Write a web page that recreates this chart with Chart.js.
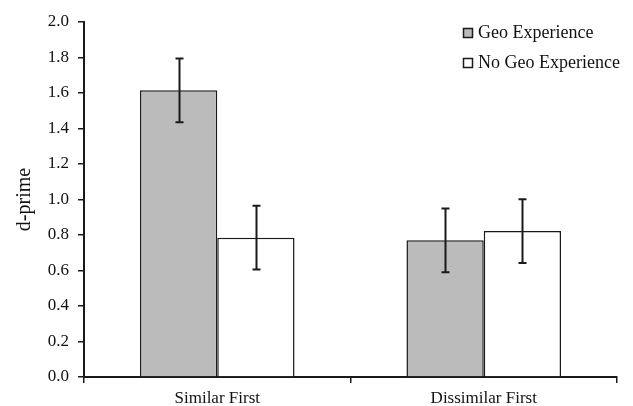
<!DOCTYPE html>
<html>
<head>
<meta charset="utf-8">
<script src="https://cdn.jsdelivr.net/npm/chart.js@4/dist/chart.umd.min.js"></script>
<style>
  html, body { margin: 0; padding: 0; background: #fff; }
  #wrap { width: 633px; height: 406px; }
</style>
</head>
<body>
<div id="wrap"><canvas id="chart" width="633" height="406"></canvas></div>
<script>
// data
const categories = ['Similar First', 'Dissimilar First'];
const seriesNames = ['Geo Experience', 'No Geo Experience'];
const geoValues = [1.615, 0.77];
const geoErrors = [0.18, 0.18];
const noGeoValues = [0.785, 0.822];
const noGeoErrors = [0.18, 0.18];
const yTicks = [0, 0.2, 0.4, 0.6, 0.8, 1.0, 1.2, 1.4, 1.6, 1.8, 2.0];

const FONT = "'Liberation Serif', 'Times New Roman', serif";

// error bars drawn through the y scale
const errorBars = {
    id: 'errorBars',
    afterDatasetsDraw(chart) {
        const ctx = chart.ctx;
        const y = chart.scales.y;
        ctx.save();
        ctx.strokeStyle = '#1a1a1a';
        ctx.lineWidth = 2;
        chart.data.datasets.forEach((ds, i) => {
            const meta = chart.getDatasetMeta(i);
            meta.data.forEach((bar, j) => {
                const v = ds.data[j], e = ds.errors[j];
                const top = y.getPixelForValue(v + e);
                const bot = y.getPixelForValue(v - e);
                const x = Math.round(bar.x) + 0.5;
                ctx.beginPath();
                ctx.moveTo(x, top); ctx.lineTo(x, bot);
                ctx.moveTo(x - 4, top); ctx.lineTo(x + 4, top);
                ctx.moveTo(x - 4, bot); ctx.lineTo(x + 4, bot);
                ctx.stroke();
            });
        });
        ctx.restore();
    }
};

// legend in the top right corner
const cornerLegend = {
    id: 'cornerLegend',
    afterDraw(chart) {
        const ctx = chart.ctx;
        ctx.save();
        ctx.font = '18px ' + FONT;
        ctx.textBaseline = 'middle';
        chart.data.datasets.forEach((ds, i) => {
            const cy = 33 + i * 30;
            ctx.fillStyle = ds.backgroundColor;
            ctx.fillRect(463, cy - 5, 10, 10);
            ctx.strokeStyle = '#1a1a1a';
            ctx.lineWidth = 1.5;
            ctx.strokeRect(463.5, cy - 4.5, 9, 9);
            ctx.fillStyle = '#111';
            ctx.fillText(ds.label, 478, cy);
        });
        ctx.restore();
    }
};

new Chart(document.getElementById('chart'), {
    type: 'bar',
    data: {
        labels: categories,
        datasets: [
            {
                label: seriesNames[0],
                data: geoValues,
                errors: geoErrors,
                backgroundColor: '#bbbbbb',
                borderColor: '#1a1a1a',
                borderWidth: 1.5
            },
            {
                label: seriesNames[1],
                data: noGeoValues,
                errors: noGeoErrors,
                backgroundColor: '#ffffff',
                borderColor: '#1a1a1a',
                borderWidth: 1.5
            }
        ]
    },
    options: {
        responsive: false,
        animation: false,
        devicePixelRatio: 1,
        categoryPercentage: 0.58,
        barPercentage: 1.0,
        layout: { padding: { top: 22, right: 16, left: 0, bottom: 0 } },
        plugins: {
            legend: { display: false },
            tooltip: { enabled: false }
        },
        scales: {
            x: {
                offset: true,
                afterFit: s => { s.height = 29; },
                grid: {
                    offset: true,
                    drawOnChartArea: false,
                    tickLength: 6,
                    color: '#1a1a1a',
                    lineWidth: 1.5
                },
                border: { color: '#1a1a1a', width: 2 },
                ticks: {
                    color: '#111',
                    font: { family: FONT, size: 17 },
                    padding: 5
                }
            },
            y: {
                min: 0,
                max: 2.0,
                afterFit: s => { s.width = 84; },
                afterBuildTicks: s => { s.ticks = yTicks.map(v => ({ value: v })); },
                grid: {
                    drawOnChartArea: false,
                    tickLength: 6,
                    color: '#1a1a1a',
                    lineWidth: 1.5
                },
                border: { color: '#1a1a1a', width: 2 },
                ticks: {
                    color: '#111',
                    font: { family: FONT, size: 17 },
                    padding: 9,
                    callback: v => Number(v).toFixed(1)
                },
                title: {
                    display: true,
                    text: 'd-prime',
                    color: '#111',
                    font: { family: FONT, size: 20 },
                    padding: { top: 13, bottom: 4 }
                }
            }
        }
    },
    plugins: [errorBars, cornerLegend]
});
</script>
</body>
</html>
